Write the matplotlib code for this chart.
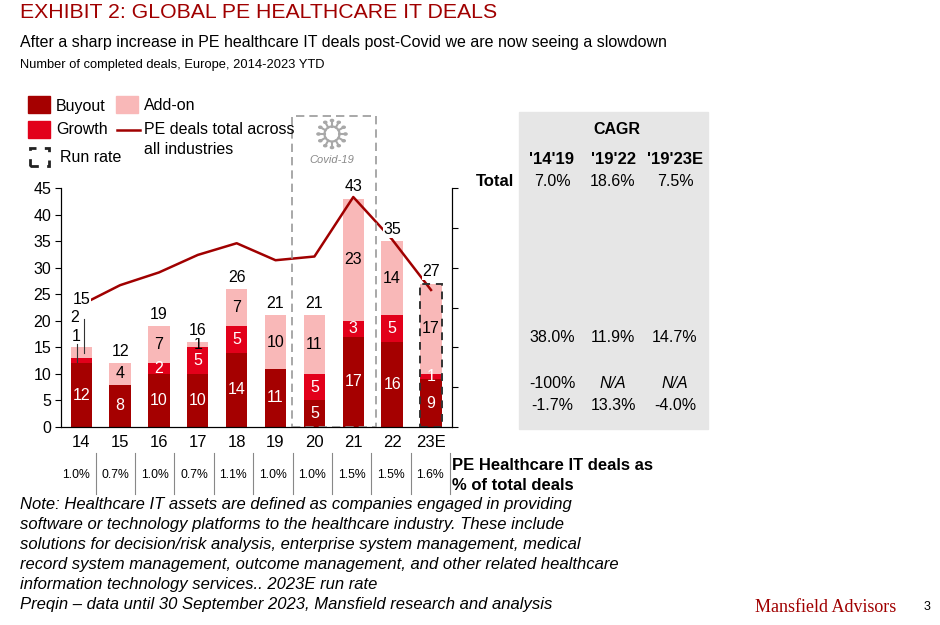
import numpy as np
import matplotlib
matplotlib.use("Agg")
import matplotlib.pyplot as plt
from matplotlib.patches import Rectangle, Circle
from matplotlib.lines import Line2D

plt.rcParams['font.family'] = ['Liberation Sans', 'DejaVu Sans']

# =======================
# DATA
# =======================
years = ["14", "15", "16", "17", "18", "19", "20", "21", "22", "23E"]
buyout = [12, 8, 10, 10, 14, 11, 5, 17, 16, 9]
growth = [1, 0, 2, 5, 5, 0, 5, 3, 5, 1]
addon = [2, 4, 7, 1, 7, 10, 11, 23, 14, 17]
pe_total_all = [23.0, 26.7, 29.1, 32.4, 34.6, 31.4, 32.1, 43.3, 35.3, 25.8]  # right axis scale
share_pct = ["1.0%", "0.7%", "1.0%", "0.7%", "1.1%", "1.0%", "1.0%", "1.5%", "1.5%", "1.6%"]

cagr_periods = ["'14'19", "'19'22", "'19'23E"]
cagr_total = ["7.0%", "18.6%", "7.5%"]
cagr_addon = ["38.0%", "11.9%", "14.7%"]
cagr_growth = ["-100%", "N/A", "N/A"]
cagr_buyout = ["-1.7%", "13.3%", "-4.0%"]

C_BUY = "#a50000"
C_GRO = "#e2001a"
C_ADD = "#f9b8b8"
C_LINE = "#a00000"

W, H = 940, 625
fig = plt.figure(figsize=(W / 100, H / 100), dpi=100)


def px(x, y):
    return x / W, 1 - y / H


# =======================
# HEADER
# =======================
fig.text(*px(20, 13), "EXHIBIT 2: GLOBAL PE HEALTHCARE IT DEALS", color="#a00000",
         fontsize=15.3, va="center", ha="left")
fig.text(*px(20, 43), "After a sharp increase in PE healthcare IT deals post-Covid we are now seeing a slowdown",
         fontsize=11.5, va="center", ha="left")
fig.text(*px(20, 65), "Number of completed deals, Europe, 2014-2023 YTD",
         fontsize=9.3, va="center", ha="left")

# =======================
# MAIN CHART
# =======================
x0, y0 = px(61, 427)
x1, y1 = px(452, 188)
ax = fig.add_axes([x0, y0, x1 - x0, y1 - y0])
x = np.arange(len(years))
bw = 0.55

b1 = np.array(buyout)
b2 = b1 + np.array(growth)
tot = b2 + np.array(addon)

ax.bar(x, buyout, bw, color=C_BUY, zorder=2)
ax.bar(x, growth, bw, bottom=b1, color=C_GRO, zorder=2)
ax.bar(x, addon, bw, bottom=b2, color=C_ADD, zorder=2)
ax.plot(x, pe_total_all, color=C_LINE, lw=1.8, zorder=3)

ax.set_xlim(-0.52, 9.54)
ax.set_ylim(0, 45)
ax.set_yticks(range(0, 46, 5))
ax.set_xticks(x)
ax.set_xticklabels(years)
ax.tick_params(axis="y", direction="out", length=4, labelsize=11.5, pad=3)
ax.tick_params(axis="x", length=0, labelsize=12, pad=6)
ax.spines["top"].set_visible(False)

ax2 = ax.twinx()
ax2.set_ylim(0, 45)
ax2.set_yticks(np.linspace(0, 45, 7))
ax2.set_yticklabels([])
ax2.tick_params(axis="y", direction="out", length=4)
ax2.spines["top"].set_visible(False)

# segment labels
for i in range(1, len(years)):
    ax.text(i, buyout[i] / 2, str(buyout[i]), color="white", ha="center", va="center",
            fontsize=11.5, zorder=5)
    if growth[i]:
        ax.text(i, b1[i] + growth[i] / 2, str(growth[i]), color="white", ha="center",
                va="center", fontsize=11.5, zorder=5)
    ax.text(i, b2[i] + addon[i] / 2, str(addon[i]), color="black", ha="center",
            va="center", fontsize=11.5, zorder=5)
    ax.text(i, tot[i] + 2.2, str(tot[i]), color="black", ha="center", va="center",
            fontsize=11.5, zorder=5,
            bbox=dict(facecolor="white", edgecolor="none", pad=0.5))

# first bar: small segments labelled outside
ax.text(0, buyout[0] / 2, str(buyout[0]), color="white", ha="center", va="center",
        fontsize=11.5, zorder=5)
ax.text(-0.13, 17.0, str(growth[0]), ha="center", va="center", fontsize=11.5, zorder=5)
ax.text(-0.17, 20.6, str(addon[0]), ha="center", va="center", fontsize=11.5, zorder=5)
ax.plot([-0.1, -0.1], [12.2, 15.6], color="#333333", lw=0.8, zorder=4)
ax.plot([0.08, 0.08], [14.0, 20.3], color="#333333", lw=0.8, zorder=4)
ax.text(0, tot[0] + 9.0, str(tot[0]), ha="center", va="center", fontsize=11.5, zorder=5,
        bbox=dict(facecolor="white", edgecolor="none", pad=0.5))

# covid box and run-rate box
ax.add_patch(Rectangle((5.42, 0), 2.16, 58.6, fill=False, edgecolor="#9a9a9a", lw=1.2,
                       linestyle=(0, (5, 3)), clip_on=False, zorder=6))
ax.add_patch(Rectangle((9 - bw / 2, 0), bw, tot[-1], fill=False, edgecolor="#333333",
                       lw=1.4, linestyle=(0, (4, 3)), clip_on=False, zorder=6))

# virus icon
cx, cy = px(332, 134)
icon_r = 7.5 / W
for a in np.linspace(0, 2 * np.pi, 12, endpoint=False):
    ex, ey = np.cos(a), np.sin(a)
    fig.add_artist(Line2D([cx + ex * icon_r, cx + ex * icon_r * 1.6],
                          [cy + ey * icon_r * W / H, cy + ey * icon_r * 1.6 * W / H],
                          color="#a8a8a8", lw=1.5))
    fig.add_artist(Circle((cx + ex * 13.5 / W, cy + ey * 13.5 / H), 1.6 / W,
                          color="#a8a8a8", transform=fig.transFigure))
fig.add_artist(Line2D([cx + 7.5 / W * np.cos(a) for a in np.linspace(0, 2 * np.pi, 60)],
                      [cy + 7.5 / H * np.sin(a) for a in np.linspace(0, 2 * np.pi, 60)],
                      color="#a8a8a8", lw=1.6))
fig.text(*px(332, 160), "Covid-19", color="#8a8a8a", style="italic", fontsize=8,
         ha="center", va="center")

# =======================
# LEGEND
# =======================
fig.add_artist(Rectangle(px(28, 113), 22 / W, 17 / H, color=C_BUY, transform=fig.transFigure))
fig.text(*px(56, 106), "Buyout", fontsize=11.5, va="center")
fig.add_artist(Rectangle(px(116, 113), 22 / W, 17 / H, color=C_ADD, transform=fig.transFigure))
fig.text(*px(144, 106), "Add-on", fontsize=11.5, va="center")
fig.add_artist(Rectangle(px(28, 138), 22 / W, 17 / H, color=C_GRO, transform=fig.transFigure))
fig.text(*px(56, 130), "Growth", fontsize=11.5, va="center")
lx0, ly = px(117, 130)
lx1, _ = px(140, 130)
fig.add_artist(Line2D([lx0, lx1], [ly, ly], color=C_LINE, lw=1.8))
fig.text(*px(144, 130), "PE deals total across", fontsize=11.5, va="center")
fig.text(*px(144, 150), "all industries", fontsize=11.5, va="center")
fig.add_artist(Rectangle(px(30, 166), 19 / W, 18 / H, fill=False, edgecolor="#222222", lw=2,
                         linestyle=(0, (3, 3)), transform=fig.transFigure))
fig.text(*px(60, 158), "Run rate", fontsize=11.5, va="center")

# =======================
# SHARE ROW
# =======================
cell = 39.37
for i, s in enumerate(share_pct):
    fig.text(*px(56.3 + cell * (i + 0.5), 475), s, fontsize=8.8, ha="center", va="center")
    ex = 56.3 + cell * (i + 1)
    fig.add_artist(Line2D([ex / W, ex / W], [1 - 453 / H, 1 - 494 / H], color="#888888", lw=0.8))
fig.text(*px(452, 466), "PE Healthcare IT deals as", fontsize=12, weight="bold", va="center")
fig.text(*px(452, 486), "% of total deals", fontsize=12, weight="bold", va="center")

# =======================
# CAGR TABLE
# =======================
fig.add_artist(Rectangle(px(519, 429), 189 / W, 317 / H, color="#e6e6e6",
                         transform=fig.transFigure, zorder=0))
fig.text(*px(617, 129), "CAGR", fontsize=11.5, weight="bold", ha="center", va="center")
col_x = [552, 613, 675]
for cxp, p in zip(col_x, cagr_periods):
    fig.text(*px(cxp, 159), p, fontsize=12, weight="bold", ha="center", va="center")
fig.text(*px(514, 182), "Total", fontsize=12, weight="bold", ha="right", va="center")
rows = [(182, cagr_total), (338, cagr_addon), (383, cagr_growth), (405, cagr_buyout)]
for yp, vals in rows:
    for cxp, v in zip(col_x, vals):
        fig.text(*px(cxp, yp), v, fontsize=11.5, ha="center", va="center",
                 style="italic" if v == "N/A" else "normal")

# =======================
# FOOTNOTE
# =======================
notes = [
    "Note: Healthcare IT assets are defined as companies engaged in providing",
    "software or technology platforms to the healthcare industry. These include",
    "solutions for decision/risk analysis, enterprise system management, medical",
    "record system management, outcome management, and other related healthcare",
    "information technology services.. 2023E run rate",
    "Preqin \u2013 data until 30 September 2023, Mansfield research and analysis",
]
for k, line in enumerate(notes):
    fig.text(*px(20, 504 + 20.2 * k), line, fontsize=12, style="italic", va="center")

fig.text(*px(755, 607), "Mansfield Advisors", family=["Liberation Serif", "DejaVu Serif"],
         color="#a00000", fontsize=13, va="center")
fig.text(*px(924, 607), "3", fontsize=9, va="center")

fig.savefig("out.png", dpi=100)
